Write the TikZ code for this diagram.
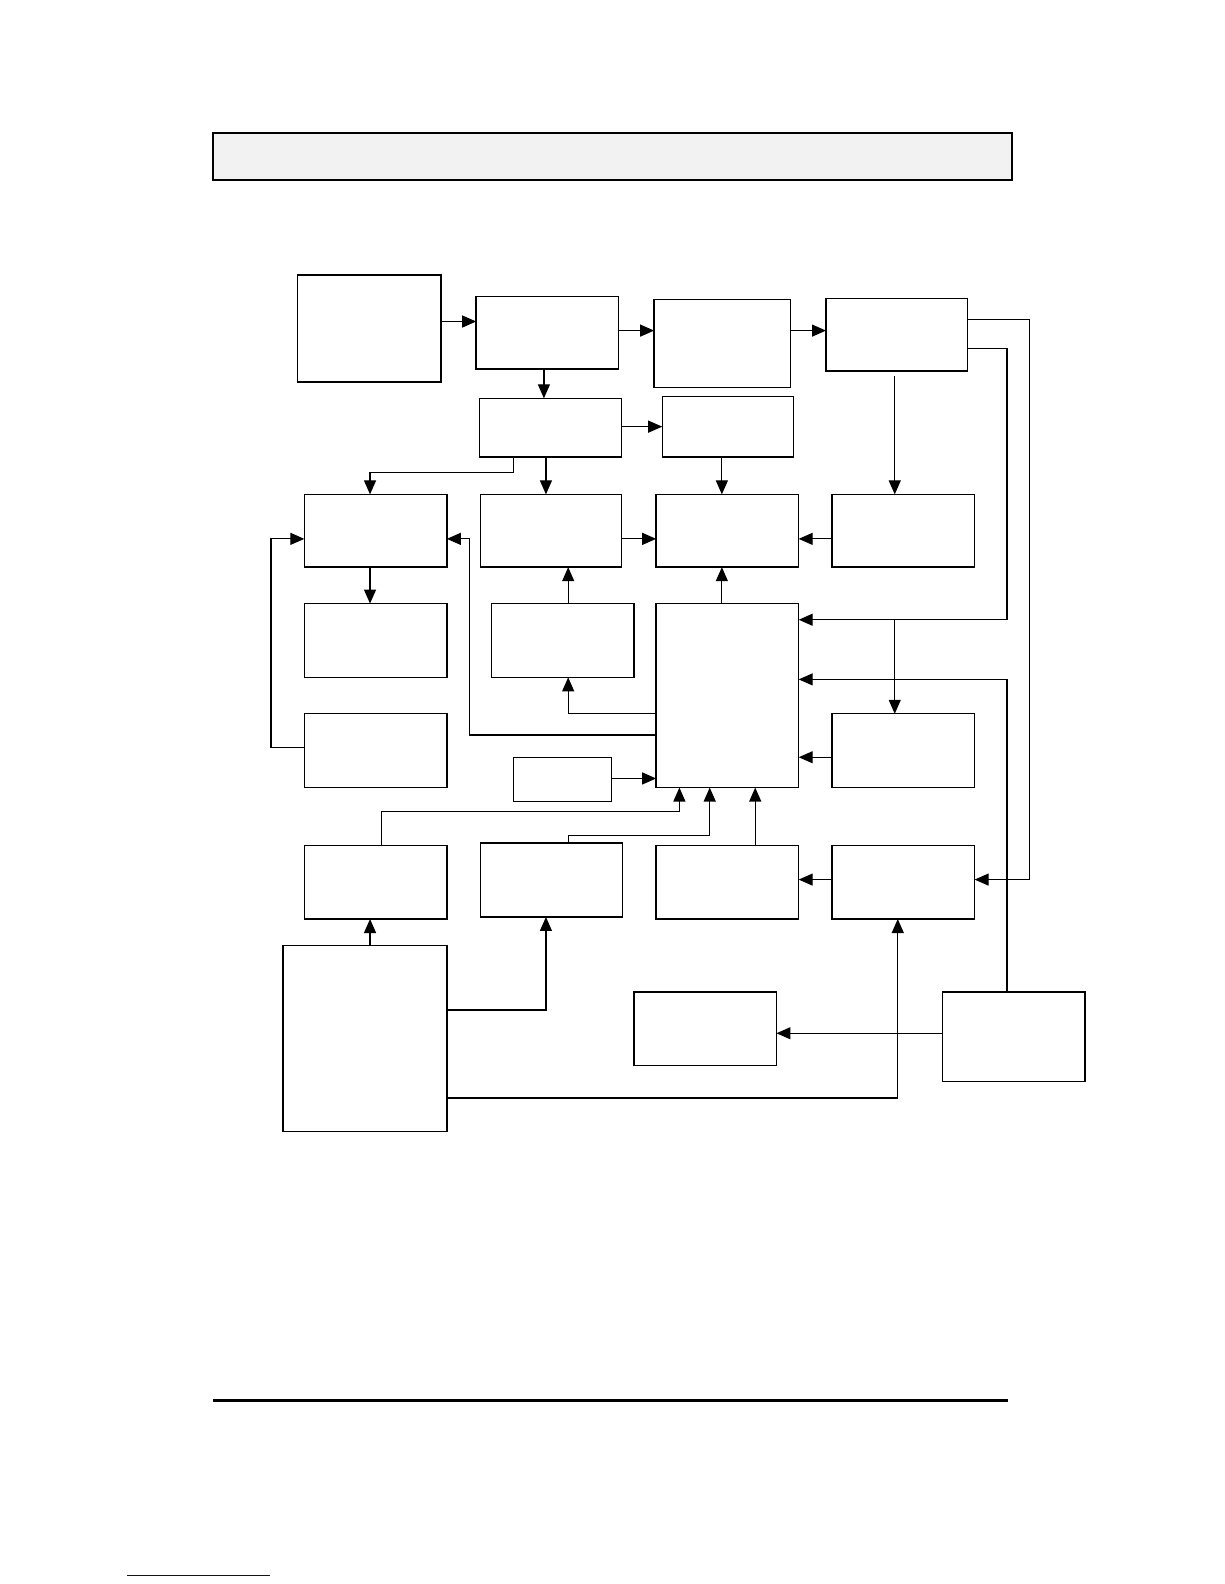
\documentclass[tikz,border=0pt]{standalone}
\usetikzlibrary{arrows.meta,calc}
\tikzset{bx/.style={draw,line width=1.4bp,inner sep=0pt,outer sep=0pt,anchor=north west},
 ar/.style={line width=1.2bp,-{Triangle[length=14bp,width=12bp]}},
 ln/.style={line width=1.2bp}}
\newcommand{\mybox}[5]{\node[bx,minimum width={(#4-#2)*1.011bp},minimum height={(#5-#3)*1.011bp}] (#1) at (#2,#3) {};}
\begin{document}
\begin{tikzpicture}[x=1bp,y=-1bp]
\useasboundingbox (0,0) rectangle (1224,1584);
\begin{scope}[x=1.011bp,y=-1.011bp]
\node[bx,fill=gray!10,line width=2bp,minimum width=799bp,minimum height=46.5bp] (hdr) at (211,132) {};
\mybox{A}{294}{272}{436}{378}
\mybox{B}{471}{293}{612}{365}
\mybox{C}{647}{296}{782}{383}
\mybox{D}{817}{295}{957}{367}
\mybox{E}{474}{394}{615}{452}
\mybox{F}{655}{392}{785}{452}
\mybox{G}{301}{489}{442}{561}
\mybox{H}{475}{489}{615}{561}
\mybox{I}{649}{489}{790}{561}
\mybox{J}{823}{489}{964}{561}
\mybox{K}{301}{597}{442}{670}
\mybox{L}{486}{597}{627}{670}
\mybox{M}{649}{597}{790}{779}
\mybox{N}{301}{706}{442}{779}
\mybox{O}{508}{749}{605}{793}
\mybox{P}{823}{706}{964}{779}
\mybox{Q}{301}{836}{442}{909}
\mybox{R}{475}{834}{616}{907}
\mybox{S}{649}{836}{790}{909}
\mybox{T}{823}{836}{964}{909}
\mybox{U}{280}{935}{442}{1119}
\mybox{V}{627}{981}{768}{1054}
\mybox{W}{932}{981}{1073}{1070}
\coordinate (bl1) at (211,1385); \coordinate (bl2) at (997,1385);
\draw[line width=2.5bp] (bl1) -- (bl2);
\coordinate (lk1) at (126,1558); \coordinate (lk2) at (267,1558);
\draw[blue!70!black,line width=0.8bp] (lk1) -- (lk2);
\draw[ar] (A.east |- 0,318) -- (B.west |- 0,318);
\draw[ar] (B.east |- 0,327) -- (C.west |- 0,327);
\draw[ar] (C.east |- 0,327) -- (D.west |- 0,327);
\draw[ar] (B.south -| 538,0) -- (E.north -| 538,0);
\draw[ar] (E.east |- 0,422) -- (F.west |- 0,422);
\draw[ar] (E.south -| 508,0) -- (508,467) -- (366,467) -- (G.north -| 366,0);
\draw[ar] (E.south -| 540,0) -- (H.north -| 540,0);
\draw[ar] (F.south -| 714,0) -- (I.north -| 714,0);
\draw[ar] (885,372) -- (J.north -| 885,0);
\draw[ar] (H.east |- 0,533) -- (I.west |- 0,533);
\draw[ar] (J.west |- 0,533) -- (I.east |- 0,533);
\draw[ar] (G.south -| 366,0) -- (K.north -| 366,0);
\draw[ar] (N.west |- 0,739) -- (268,739) -- (268,533) -- (G.west |- 0,533);
\draw[ar] (L.north -| 562,0) -- (H.south -| 562,0);
\draw[ar] (M.north -| 714,0) -- (I.south -| 714,0);
\draw[ar] (M.west |- 0,706) -- (562,706) -- (L.south -| 562,0);
\draw[ar] (M.west |- 0,727) -- (464,727) -- (464,533) -- (G.east |- 0,533);
\draw[ar] (O.east |- 0,770) -- (M.west |- 0,770);
\draw[ar] (D.east |- 0,345) -- (996,345) -- (996,613) -- (M.east |- 0,613);
\draw[ar] (W.north -| 996,0) -- (996,672) -- (M.east |- 0,672);
\draw[ar] (D.east |- 0,316) -- (1018,316) -- (1018,870) -- (T.east |- 0,870);
\draw[ar] (885,613) -- (P.north -| 885,0);
\draw[ar] (P.west |- 0,749) -- (M.east |- 0,749);
\draw[ar] (Q.north -| 377,0) -- (377,803) -- (672,803) -- (M.south -| 672,0);
\draw[ar] (R.north -| 562,0) -- (562,826) -- (702,826) -- (M.south -| 702,0);
\draw[ar] (S.north -| 747,0) -- (M.south -| 747,0);
\draw[ar] (T.west |- 0,870) -- (S.east |- 0,870);
\draw[ar] (U.north -| 366,0) -- (Q.south -| 366,0);
\draw[ar] (U.east |- 0,999) -- (540,999) -- (R.south -| 540,0);
\draw[ar] (U.east |- 0,1086) -- (888,1086) -- (T.south -| 888,0);
\draw[ar] (W.west |- 0,1022) -- (V.east |- 0,1022);
\end{scope}
\end{tikzpicture}
\end{document}
